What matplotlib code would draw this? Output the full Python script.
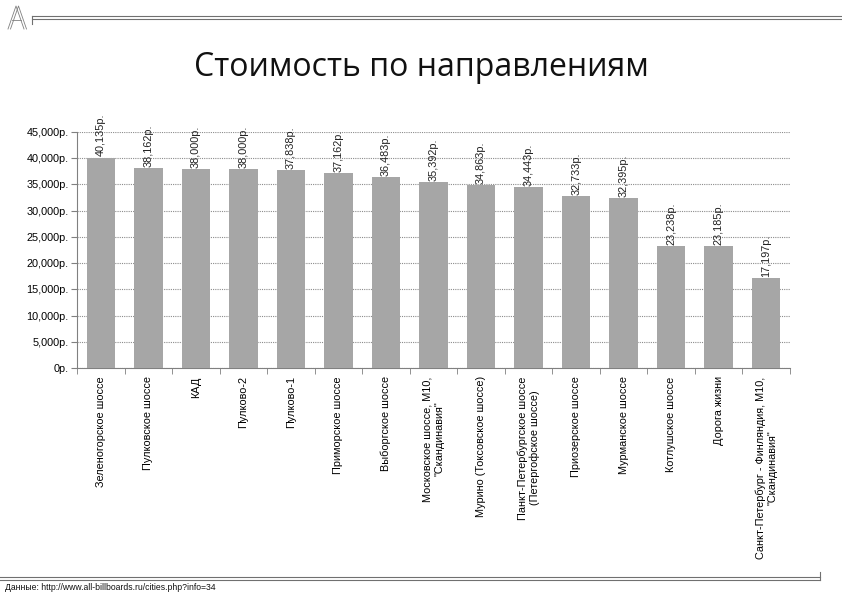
import numpy as np
import matplotlib.pyplot as plt
from matplotlib.lines import Line2D
from matplotlib.ticker import FuncFormatter, MultipleLocator

# Данные
categories = [
    "Зеленогорское шоссе",
    "Пулковское шоссе",
    "КАД",
    "Пулково-2",
    "Пулково-1",
    "Приморское шоссе",
    "Выборгское шоссе",
    "Московское шоссе, М10,\n\"Скандинавия\"",
    "Мурино (Токсовское шоссе)",
    "Панкт-Петербургское шоссе\n(Петергофское шоссе)",
    "Приозерское шоссе",
    "Мурманское шоссе",
    "Котлушское шоссе",
    "Дорога жизни",
    "Санкт-Петербург - Финляндия, М10,\n\"Скандинавия\"",
]
values = [40135, 38162, 38000, 38000, 37838, 37162, 36483, 35392,
          34863, 34443, 32733, 32395, 23238, 23185, 17197]

TITLE = "Стоимость по направлениям"
SOURCE = "Данные: http://www.all-billboards.ru/cities.php?info=34"

plt.rcParams['font.family'] = ['Liberation Sans', 'DejaVu Sans']

W, H = 842, 595
fig = plt.figure(figsize=(W / 100, H / 100), dpi=100)

# axes placement in pixels: left 77, right 790, top 132, bottom 368
ax = fig.add_axes([77 / W, 1 - 368 / H, (790 - 77) / W, (368 - 132) / H])

x = np.arange(len(values))
bars = ax.bar(x, values, width=0.6, color='#a6a6a6', zorder=3)

ax.set_xlim(-0.5, len(values) - 0.5)
ax.set_ylim(0, 45000)
ax.yaxis.set_major_locator(MultipleLocator(5000))
ax.yaxis.set_major_formatter(FuncFormatter(lambda v, p: "0р." if v == 0 else f"{int(v):,}р."))
ax.grid(axis='y', linestyle=(0, (1, 1)), color='#8c8c8c', linewidth=0.8, zorder=0)

ax.set_xticks(x)
ax.set_xticklabels(categories, rotation=90, fontsize=7.8, va='top', ha='center',
                   multialignment='center')
ax.tick_params(axis='x', length=0, pad=6)
ax.set_xticks(np.arange(-0.5, len(values), 1), minor=True)
ax.tick_params(axis='x', which='minor', length=4, color='#808080')
ax.tick_params(axis='y', length=4, color='#808080', labelsize=7.8, pad=2)

for s in ['top', 'right']:
    ax.spines[s].set_visible(False)
for s in ['left', 'bottom']:
    ax.spines[s].set_color('#808080')

for xi, v in zip(x, values):
    ax.text(xi, v + 200, f"{v:,}р.", rotation=90, ha='center', va='bottom',
            fontsize=7.8, color='#222222', zorder=4)

fig.text(421 / W, 1 - 67 / H, TITLE, ha='center', va='center', fontsize=23,
         family=['Open Sans', 'DejaVu Sans'], color='#111111')
fig.text(5 / W, 1 - 588 / H, SOURCE, ha='left', va='center', fontsize=6.2, color='#111111')

# decorative frame lines
for yy in (16, 19):
    fig.add_artist(Line2D([32 / W, 1.0], [1 - yy / H] * 2, transform=fig.transFigure,
                          color='#707070', linewidth=0.8))
fig.add_artist(Line2D([32 / W, 32 / W], [1 - 16 / H, 1 - 24 / H], transform=fig.transFigure,
                      color='#707070', linewidth=0.8))
for yy in (577, 580):
    fig.add_artist(Line2D([0, 820 / W], [1 - yy / H] * 2, transform=fig.transFigure,
                          color='#707070', linewidth=0.8))
fig.add_artist(Line2D([820 / W, 820 / W], [1 - 572 / H, 1 - 580 / H], transform=fig.transFigure,
                      color='#707070', linewidth=0.8))

# logo "A" in outline strokes
for dx in (0, 2.5):
    fig.add_artist(Line2D([(8 + dx) / W, (16 + dx) / W, (24 + dx) / W],
                          [1 - 29 / H, 1 - 6 / H, 1 - 29 / H],
                          transform=fig.transFigure, color='#808080', linewidth=0.6))
fig.add_artist(Line2D([12 / W, 21 / W], [1 - 20 / H] * 2, transform=fig.transFigure,
                      color='#808080', linewidth=0.6))

fig.savefig("out.png", dpi=100)
